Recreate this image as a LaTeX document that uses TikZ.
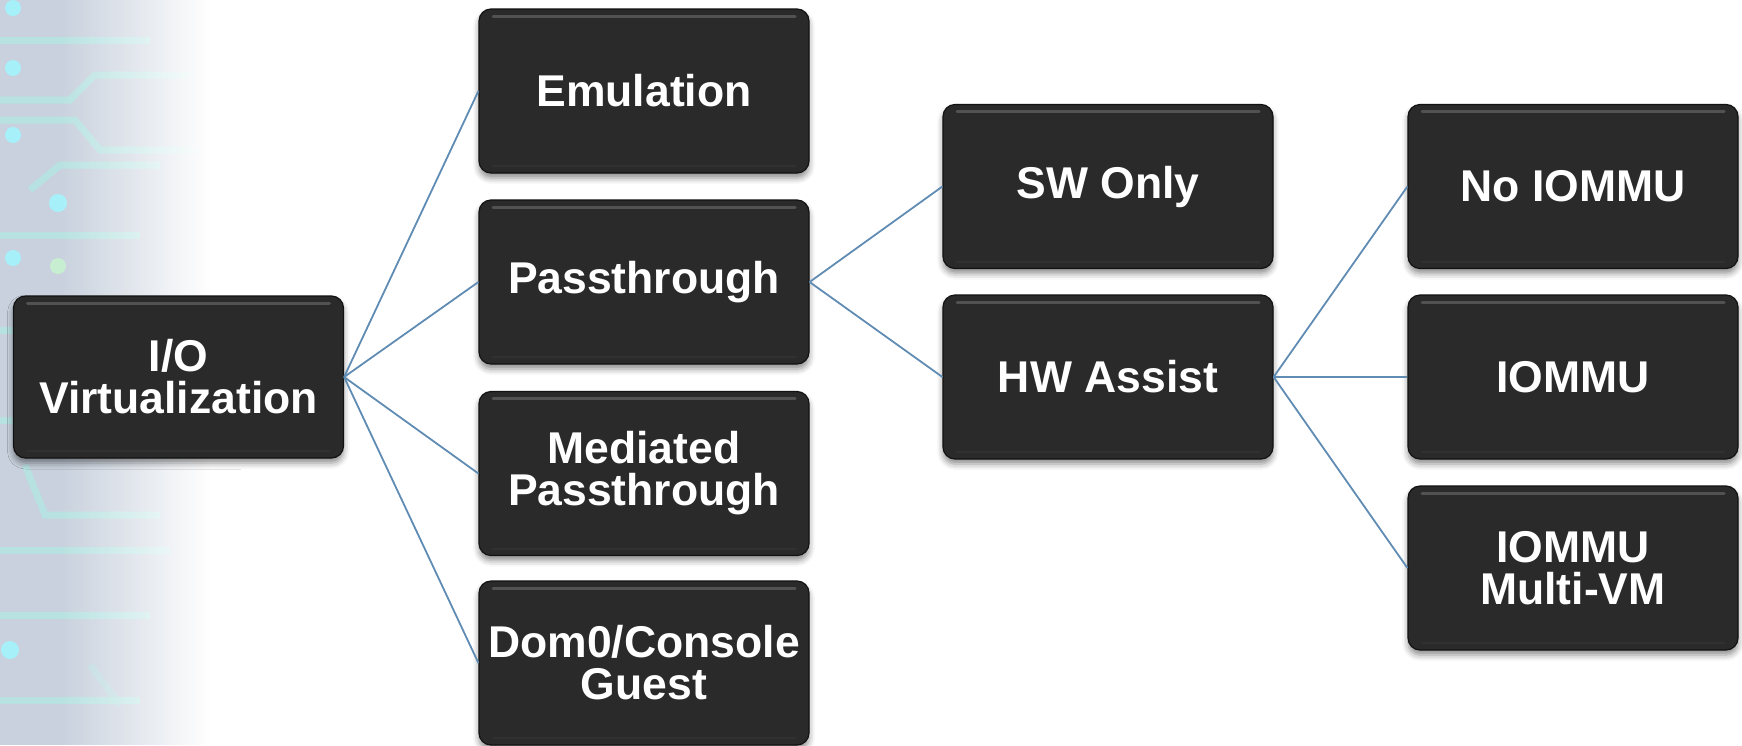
\documentclass[tikz,border=0pt]{standalone}
\usepackage{fontspec}
\setmainfont{Liberation Sans}
\usetikzlibrary{shadows.blur}

\definecolor{boxfill}{RGB}{42,42,42}
\definecolor{boxrim}{RGB}{18,18,18}
\definecolor{boxgloss}{RGB}{92,92,92}
\definecolor{linkblue}{RGB}{96,140,180}
\definecolor{boardbg}{RGB}{200,209,221}
\definecolor{trace}{RGB}{182,228,226}
\definecolor{pad}{RGB}{165,242,252}
\definecolor{padgreen}{RGB}{200,240,210}

\tikzset{
  cell/.style={
    rectangle, rounded corners=12pt,
    fill=boxfill, draw=boxrim, line width=1.2pt,
    minimum width=330pt, minimum height=164pt, inner sep=0pt,
    text=white, align=center,
    font=\bfseries\fontsize{44.5}{42}\selectfont,
    blur shadow={shadow xshift=0pt, shadow yshift=-5pt,
                 shadow blur radius=6pt, shadow opacity=45},
    path picture={
      \draw[boxgloss, line width=3pt, line cap=round, opacity=0.8]
        ([xshift=14pt,yshift=-7pt]path picture bounding box.north west) --
        ([xshift=-14pt,yshift=-7pt]path picture bounding box.north east);
      \draw[boxgloss, line width=2pt, line cap=round, opacity=0.15]
        ([xshift=14pt,yshift=7pt]path picture bounding box.south west) --
        ([xshift=-14pt,yshift=7pt]path picture bounding box.south east);
    }
  },
  link/.style={draw=linkblue, line width=1.8pt},
  wire/.style={draw=trace, line width=7pt, opacity=0.9},
  padspot/.style={fill=pad, opacity=0.95}
}

\begin{document}
\begin{tikzpicture}[x=1pt,y=-1pt]
\useasboundingbox (0,0) rectangle (1742,745);

% circuit-board strip along the left edge
\fill[boardbg] (0,0) rectangle (240,745);
\draw[wire] (0,40) -- (150,40);
\draw[wire] (0,100) -- (70,100) -- (95,75) -- (190,75);
\draw[wire] (0,120) -- (75,120) -- (100,150) -- (200,150);
\draw[wire] (30,190) -- (60,165) -- (160,165);
\draw[wire] (0,235) -- (140,235);
\draw[wire] (0,330) -- (120,330);
\draw[wire] (0,420) -- (160,420);
\draw[wire] (25,465) -- (45,515) -- (160,515);
\draw[wire] (0,550) -- (170,550);
\draw[wire] (0,615) -- (150,615);
\draw[wire] (0,700) -- (140,700);
\draw[wire, opacity=0.5] (90,665) -- (120,705);
\fill[padspot] (13,8) circle (8);
\fill[padspot] (13,68) circle (8);
\fill[padspot] (13,135) circle (8);
\fill[padspot] (58,203) circle (9);
\fill[padspot] (13,258) circle (8);
\fill[padspot, fill=padgreen] (58,266) circle (8);
\fill[padspot] (10,650) circle (9);
% fade the strip out to white, in thin steps
\foreach \i in {0,...,49}
  \fill[white, opacity={(\i+0.5)/50}] ({60+\i*3},0) rectangle ({63.3+\i*3},745);
\fill[white] (210,0) rectangle (241,745);

% boxes
\node[cell, minimum height=162pt] (io) at (178.5,377) {I/O\\Virtualization};

\node[cell] (emu)  at (644,91)    {Emulation};
\node[cell] (pass) at (644,282)   {Passthrough};
\node[cell] (med)  at (644,473.5) {Mediated\\Passthrough};
\node[cell] (dom)  at (644,663)   {Dom0/Console\\Guest};

\node[cell] (sw) at (1108,186.5) {SW Only};
\node[cell] (hw) at (1108,377)   {HW Assist};

\node[cell] (noi) at (1573,186.5) {No IOMMU};
\node[cell] (iom) at (1573,377)   {IOMMU};
\node[cell] (mvm) at (1573,568)   {IOMMU\\Multi-VM};

% connectors
\foreach \t in {emu,pass,med,dom}
  \draw[link] (io.east) -- (\t.west);
\foreach \t in {sw,hw}
  \draw[link] (pass.east) -- (\t.west);
\foreach \t in {noi,iom,mvm}
  \draw[link] (hw.east) -- (\t.west);
\end{tikzpicture}
\end{document}
